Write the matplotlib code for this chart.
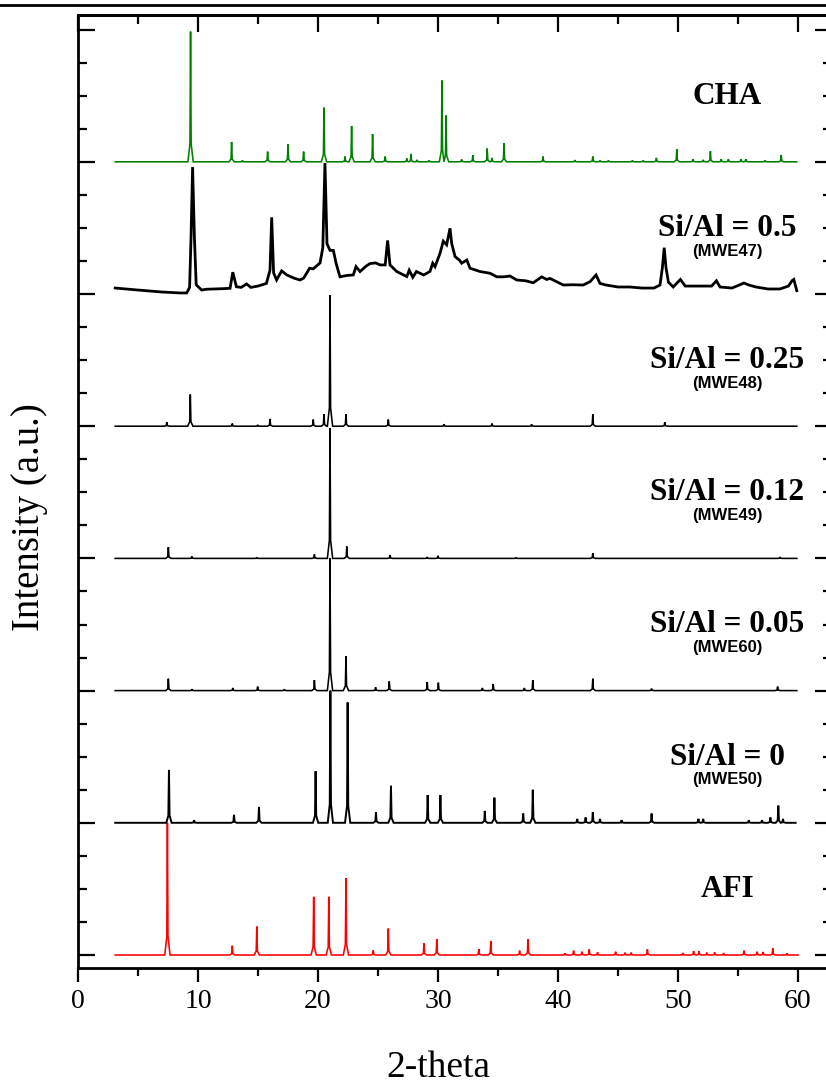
import numpy as np
import matplotlib
matplotlib.use("Agg")
import matplotlib.pyplot as plt
from matplotlib.lines import Line2D
from matplotlib.ticker import MultipleLocator

# ---------------- data (2-theta in degrees, intensity in a.u., 1 = one stack step) ----
scan_lo, scan_hi = 3.1, 59.9

afi_pos = [7.45, 12.86, 14.9, 19.64, 20.9, 22.33, 24.6, 25.86, 28.83, 29.9, 33.4, 34.4,
           36.8, 37.5, 40.6, 41.3, 42.0, 42.6, 43.3, 44.8, 45.6, 46.1, 47.45, 50.4, 51.3,
           51.75, 52.4, 53.05, 53.8, 55.5, 56.6, 57.1, 57.9, 59.1]
afi_int = [1.0, 0.07, 0.215, 0.44, 0.44, 0.58, 0.035, 0.2, 0.09, 0.12, 0.045, 0.106,
           0.033, 0.12, 0.013, 0.033, 0.025, 0.043, 0.02, 0.025, 0.018, 0.018, 0.043, 0.015,
           0.03, 0.03, 0.018, 0.02, 0.015, 0.033, 0.025, 0.023, 0.05, 0.013]

mwe50_pos = [7.58, 9.67, 13.0, 15.08, 19.8, 21.03, 22.47, 24.83, 26.08, 29.14, 30.2, 33.9,
             34.7, 37.1, 37.9, 41.6, 42.3, 42.9, 43.5, 45.3, 47.8, 51.7, 52.1, 55.9, 57.0,
             57.7, 58.36, 58.75]
mwe50_int = [0.40, 0.02, 0.06, 0.12, 0.39, 1.0, 0.91, 0.08, 0.28, 0.21, 0.21, 0.09,
             0.19, 0.07, 0.25, 0.03, 0.04, 0.08, 0.03, 0.02, 0.07, 0.03, 0.03, 0.02, 0.02,
             0.04, 0.13, 0.03]

mwe60_pos = [7.53, 9.5, 12.9, 14.97, 17.2, 19.7, 21.0, 22.33, 24.8, 25.94, 29.1, 30.03,
             33.7, 34.6, 37.2, 37.9, 42.9, 47.8, 58.3]
mwe60_int = [0.09, 0.01, 0.02, 0.03, 0.01, 0.08, 1.0, 0.26, 0.025, 0.07, 0.065, 0.06,
             0.02, 0.05, 0.02, 0.08, 0.09, 0.015, 0.03]

mwe49_pos = [7.53, 9.48, 14.9, 19.7, 21.0, 22.4, 26.0, 29.1, 30.0, 36.5, 42.9, 58.5]
mwe49_int = [0.085, 0.015, 0.005, 0.03, 0.985, 0.09, 0.025, 0.01, 0.02, 0.005, 0.04, 0.01]

mwe48_pos = [7.4, 9.36, 12.86, 14.97, 16.0, 19.6, 20.5, 21.0, 22.33, 25.86, 30.5, 34.5,
             37.8, 42.9, 48.9]
mwe48_int = [0.03, 0.24, 0.02, 0.01, 0.055, 0.05, 0.09, 0.99, 0.09, 0.05, 0.015, 0.02,
             0.015, 0.09, 0.03]

mwe47_tt = [3.1, 5.0, 7.0, 8.5, 9.06, 9.3, 9.42, 9.55, 9.7, 9.85, 10.3, 10.7, 12.0, 12.67,
            12.9, 13.2, 13.6, 14.05, 14.4, 15.0, 15.7, 16.0, 16.14, 16.3, 16.55, 16.97,
            17.4, 18.0, 18.5, 18.8, 19.05, 19.3, 19.6, 20.17, 20.4, 20.58, 20.75, 21.0,
            21.28, 21.5, 21.83, 22.4, 22.94, 23.17, 23.5, 24.0, 24.33, 24.8, 25.17, 25.6,
            25.8, 26.0, 26.56, 27.0, 27.4, 27.6, 27.9, 28.2, 28.8, 29.33, 29.56, 29.75,
            30.17, 30.44, 30.72, 31.0, 31.14, 31.42, 31.78, 31.97, 32.4, 32.67, 33.5, 34.33,
            34.9, 35.5, 36.0, 36.56, 37.3, 37.94, 38.64, 39.06, 39.33, 40.44, 41.2, 42.1,
            42.67, 43.17, 43.5, 44.0, 45.0, 46.0, 47.0, 48.0, 48.5, 48.7, 48.85, 49.0, 49.2,
            49.6, 50.2, 50.6, 51.5, 52.8, 53.2, 53.5, 54.5, 55.5, 55.9, 56.5, 57.5, 58.5,
            59.2, 59.5, 59.65, 59.9]
mwe47_int = [0.045, 0.03, 0.015, 0.008, 0.008, 0.05, 0.43, 0.96, 0.43, 0.07, 0.03, 0.036,
             0.04, 0.043, 0.165, 0.055, 0.05, 0.076, 0.05, 0.06, 0.08, 0.18, 0.58, 0.16,
             0.106, 0.175, 0.144, 0.12, 0.106, 0.12, 0.157, 0.195, 0.19, 0.235, 0.35, 0.99,
             0.38, 0.33, 0.33, 0.235, 0.13, 0.14, 0.144, 0.207, 0.17, 0.21, 0.23, 0.235,
             0.22, 0.22, 0.405, 0.22, 0.17, 0.15, 0.132, 0.18, 0.126, 0.17, 0.144, 0.17,
             0.233, 0.207, 0.308, 0.4, 0.372, 0.497, 0.383, 0.283, 0.257, 0.233, 0.257,
             0.195, 0.17, 0.157, 0.13, 0.13, 0.136, 0.106, 0.1, 0.085, 0.13, 0.11, 0.118,
             0.068, 0.07, 0.068, 0.093, 0.144, 0.08, 0.068, 0.053, 0.053, 0.045, 0.045,
             0.068, 0.2, 0.35, 0.2, 0.09, 0.053, 0.11, 0.06, 0.06, 0.06, 0.1, 0.053, 0.045,
             0.083, 0.068, 0.053, 0.038, 0.038, 0.06, 0.1, 0.11, 0.025]

cha_pos = [9.38, 12.8, 13.7, 15.8, 17.5, 18.8, 20.5, 22.25, 22.8, 24.55, 25.6, 27.4, 27.75,
           28.25, 29.25, 30.33, 30.67, 31.97, 32.9, 34.1, 34.5, 35.5, 38.75, 41.4, 42.9,
           43.5, 44.2, 46.2, 47.1, 48.2, 49.9, 51.25, 52.1, 52.7, 53.6, 54.2, 55.25, 55.65,
           57.25, 58.6]
cha_int = [0.985, 0.15, 0.01, 0.077, 0.135, 0.077, 0.41, 0.04, 0.27, 0.21, 0.04, 0.025,
           0.06, 0.015, 0.01, 0.615, 0.35, 0.018, 0.05, 0.1, 0.03, 0.14, 0.04, 0.013, 0.04,
           0.01, 0.01, 0.01, 0.01, 0.03, 0.095, 0.02, 0.015, 0.08, 0.02, 0.02, 0.02, 0.02,
           0.01, 0.05]

labels_main = ["AFI", "Si/Al = 0", "Si/Al = 0.05", "Si/Al = 0.12", "Si/Al = 0.25",
               "Si/Al = 0.5", "CHA"]
labels_sub = ["", "(MWE50)", "(MWE60)", "(MWE49)", "(MWE48)", "(MWE47)", ""]
x_ticks = [0, 10, 20, 30, 40, 50, 60]


# ---------------- helpers ----------------
def stick_trace(pos, hgt, lo, hi, w_base=0.22, w_mid=0.05, f_mid=0.14):
    xs, ys = [lo], [0.0]
    n = len(pos)
    for i, (p, h) in enumerate(zip(pos, hgt)):
        left, right = p - w_base, p + w_base
        if i > 0:
            left = max(left, 0.5 * (pos[i - 1] + p))
        if i < n - 1:
            right = min(right, 0.5 * (p + pos[i + 1]))
        ml = max(p - w_mid, 0.5 * (left + p))
        mr = min(p + w_mid, 0.5 * (p + right))
        xs += [left, ml, p, mr, right]
        ys += [0.0, f_mid * h, h, f_mid * h, 0.0]
    xs.append(hi)
    ys.append(0.0)
    return np.array(xs), np.array(ys)


# ---------------- figure ----------------
W, H = 826, 1084
fig = plt.figure(figsize=(W / 100, H / 100), dpi=100)
ax_l, ax_r, ax_t, ax_b = 78, 832, 15, 968
ax = fig.add_axes([ax_l / W, 1 - ax_b / H, (ax_r - ax_l) / W, (ax_b - ax_t) / H])

px_per_deg = 12.0
step_px = 132.2
ax.set_xlim(0, (ax_r - ax_l) / px_per_deg)
ax.set_ylim((955 - ax_b) / step_px, (955 - ax_t) / step_px)

lw = 1.15
traces = [
    (stick_trace(afi_pos, afi_int, scan_lo, scan_hi + 0.1), "#ff0000", lw),
    (stick_trace(mwe50_pos, mwe50_int, scan_lo, scan_hi - 0.1), "black", lw + 0.25),
    (stick_trace(mwe60_pos, mwe60_int, scan_lo, scan_hi), "black", lw),
    (stick_trace(mwe49_pos, mwe49_int, scan_lo, scan_hi), "black", lw),
    (stick_trace(mwe48_pos, mwe48_int, scan_lo, scan_hi), "black", lw),
    ((np.array(mwe47_tt), np.array(mwe47_int)), "black", 2.0),
    (stick_trace(cha_pos, cha_int, scan_lo, scan_hi), "#008000", lw),
]
for k, ((xs, ys), col, w) in enumerate(traces):
    ax.plot(xs, ys + k, color=col, lw=w, solid_joinstyle="miter")

label_x = 54.1
for k, (m, s) in enumerate(zip(labels_main, labels_sub)):
    ax.text(label_x, k + 0.44, m, ha="center", va="baseline",
            family="Liberation Serif", fontweight="bold", fontsize=22.5)
    if s:
        ax.text(label_x, k + 0.29, s, ha="center", va="baseline",
                family="Liberation Sans", fontweight="bold", fontsize=12)

# ticks
ax.xaxis.set_major_locator(MultipleLocator(10))
ax.xaxis.set_minor_locator(MultipleLocator(5))
ax.yaxis.set_major_locator(MultipleLocator(1))
ax.yaxis.set_minor_locator(MultipleLocator(0.25))
ax.set_xticks(x_ticks)
ax.set_xticklabels([str(t) for t in x_ticks], family="Liberation Serif", fontsize=20)
ax.tick_params(axis="y", which="both", left=True, right=True, labelleft=False,
               direction="in")
ax.tick_params(axis="y", which="major", length=12, width=1.6)
ax.tick_params(axis="y", which="minor", length=6.5, width=1.6)
ax.tick_params(axis="x", which="both", top=False, bottom=True, direction="out")
ax.tick_params(axis="x", which="major", length=10, width=1.6, pad=5)
ax.tick_params(axis="x", which="minor", length=6, width=1.6)

# inward top ticks via secondary axis
sec = ax.secondary_xaxis("top")
sec.xaxis.set_major_locator(MultipleLocator(10))
sec.xaxis.set_minor_locator(MultipleLocator(5))
sec.tick_params(axis="x", which="both", direction="in", labeltop=False)
sec.tick_params(axis="x", which="major", length=12, width=1.6)
sec.tick_params(axis="x", which="minor", length=6.5, width=1.6)
sec.spines["top"].set_linewidth(2.0)

for sp in ax.spines.values():
    sp.set_linewidth(2.0)

fig.text(438 / W, 1 - 1068 / H, "2-theta", ha="center", va="center",
         family="Liberation Serif", fontsize=27)
fig.text(30 / W, 1 - 517 / H, "Intensity (a.u.)", ha="center", va="center",
         rotation=90, family="Liberation Serif", fontsize=28)

fig.add_artist(Line2D([0, 1], [1 - 5 / H, 1 - 5 / H], transform=fig.transFigure,
                      color="black", lw=2.0))

fig.savefig("out.png", dpi=100)
